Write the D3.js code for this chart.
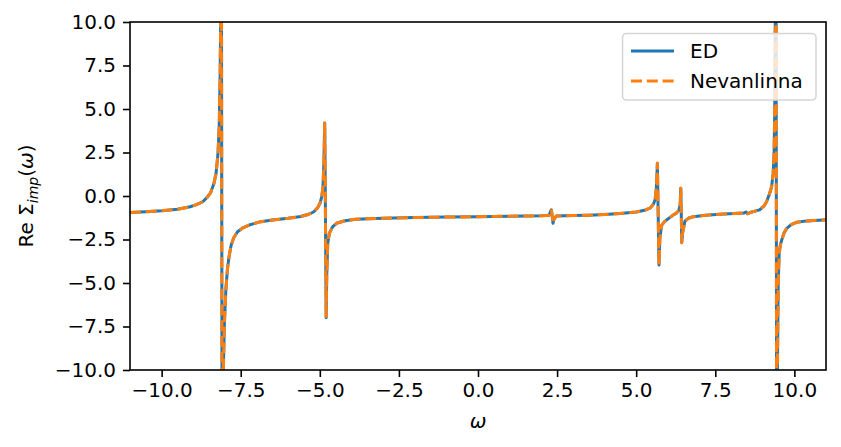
<!DOCTYPE html>
<html>
<head>
<meta charset="utf-8">
<script src="https://cdn.jsdelivr.net/npm/d3@7"></script>
<style>
  html, body { margin: 0; padding: 0; background: #fff; }
  text { font-family: "DejaVu Sans", sans-serif; }
</style>
</head>
<body>
<svg id="chart" width="841" height="447"></svg>
<script>
// ---- data ----
const omega = [
  -11.0, -10.5, -10.0, -9.5, -9.1, -8.9, -8.7, -8.55, -8.45, -8.35, -8.28, -8.22, -8.18, -8.15, -8.13, -8.11,
  -8.09, -8.06, -8.02, -7.97, -7.92, -7.87, -7.80, -7.72, -7.6, -7.45, -7.23, -6.92, -6.5, -6.0, -5.6, -5.35,
  -5.2, -5.08, -5.0, -4.94, -4.90, -4.87, -4.845, -4.83, -4.815, -4.80, -4.78, -4.75, -4.70, -4.60, -4.45, -4.2,
  -3.86, -3.0, -2.0, -1.0, 0.0, 1.0, 2.0, 2.25, 2.30, 2.32, 2.35, 2.37, 2.40, 2.47, 3.0, 3.5, 4.0, 4.5, 5.0,
  5.3, 5.45, 5.55, 5.60, 5.64, 5.67, 5.695, 5.72, 5.75, 5.80, 5.88, 5.96, 6.07, 6.17, 6.28, 6.35, 6.39, 6.41,
  6.425, 6.44, 6.47, 6.54, 6.65, 6.8, 7.2, 7.64, 8.1, 8.4, 8.48, 8.52, 8.6, 8.9, 9.05, 9.12, 9.22, 9.28, 9.33,
  9.36, 9.38, 9.40, 9.42, 9.44, 9.46, 9.49, 9.52, 9.56, 9.60, 9.68, 9.76, 9.9, 10.07, 10.4, 10.9, 11.0
];
const reSigmaED = [
  -0.95, -0.90, -0.85, -0.76, -0.62, -0.50, -0.33, -0.05, 0.2, 0.7, 1.3, 2.4, 4.0, 7.0, 11.0, 14,
  -14, -11, -7.5, -5.4, -4.2, -3.5, -2.8, -2.4, -2.05, -1.85, -1.67, -1.50, -1.38, -1.28, -1.18, -1.05,
  -0.92, -0.7, -0.45, -0.05, 0.5, 2.0, 4.2, 1.0, -3.0, -7.0, -4.5, -2.75, -2.15, -1.78, -1.55, -1.42,
  -1.33, -1.28, -1.24, -1.21, -1.19, -1.16, -1.14, -1.10, -0.85, -0.80, -1.2, -1.57, -1.35, -1.15, -1.12, -1.10, -1.06, -1.0, -0.92,
  -0.80, -0.68, -0.45, -0.2, 0.5, 1.88, -1.0, -3.97, -2.4, -1.7, -1.5, -1.38, -1.23, -1.09, -0.97, -0.82, -0.5, 0.44,
  -1.0, -2.68, -2.1, -1.45, -1.28, -1.19, -1.10, -1.05, -1.00, -0.98, -0.92, -1.02, -0.95, -0.80, -0.55, -0.33, 0.15, 0.53, 1.3,
  2.5, 5, 11, 14, -14, -11, -5, -3.28, -2.8, -2.53, -2.1, -1.86, -1.65, -1.51, -1.43, -1.38, -1.37
];
const reSigmaNevanlinna = reSigmaED.slice();
const xTicks = [-10, -7.5, -5, -2.5, 0, 2.5, 5, 7.5, 10];
const yTicks = [-10, -7.5, -5, -2.5, 0, 2.5, 5, 7.5, 10];
const seriesNames = ["ED", "Nevanlinna"];

// ---- layout ----
const svg = d3.select("#chart");
const L = 130, R = 826, T = 22, B = 370;
const x = d3.scaleLinear().domain([-11, 11]).range([L, R]);
const y = d3.scaleLinear().domain([-10, 10]).range([B, T]);
const fs = 20;
const lw = 3;
const dash = "11,4.8";
const fmt = d => d3.format(".1f")(d).replace("-", "\u2212");

svg.append("defs").append("clipPath").attr("id", "clip")
  .append("rect").attr("x", L).attr("y", T).attr("width", R - L).attr("height", B - T);

const line = d3.line().x((d, i) => x(omega[i])).y(d => y(d));
const g = svg.append("g").attr("clip-path", "url(#clip)");
g.append("path").datum(reSigmaED).attr("d", line)
  .attr("fill", "none").attr("stroke", "#1f77b4").attr("stroke-width", lw)
  .attr("stroke-linejoin", "round");
g.append("path").datum(reSigmaNevanlinna).attr("d", line)
  .attr("fill", "none").attr("stroke", "#ff7f0e").attr("stroke-width", lw)
  .attr("stroke-dasharray", dash).attr("stroke-linejoin", "round");

// axes
const xAxis = d3.axisBottom(x).tickValues(xTicks).tickFormat(fmt).tickSize(7).tickPadding(6);
const yAxis = d3.axisLeft(y).tickValues(yTicks).tickFormat(fmt).tickSize(7).tickPadding(7);
const gx = svg.append("g").attr("transform", `translate(0,${B})`).call(xAxis);
const gy = svg.append("g").attr("transform", `translate(${L},0)`).call(yAxis);
[gx, gy].forEach(a => {
  a.select(".domain").remove();
  a.selectAll("line").attr("stroke", "#000").attr("stroke-width", 1.6);
  a.selectAll("text").attr("font-size", fs).attr("fill", "#000")
    .attr("font-family", "DejaVu Sans, sans-serif");
});
// spines
svg.append("rect").attr("x", L).attr("y", T).attr("width", R - L).attr("height", B - T)
  .attr("fill", "none").attr("stroke", "#000").attr("stroke-width", 1.6);

// axis labels
svg.append("text").attr("x", (L + R) / 2).attr("y", 428).attr("text-anchor", "middle")
  .attr("font-size", fs).attr("font-style", "italic").text("\u03c9");
const yl = svg.append("text").attr("transform", `translate(33,${(T + B) / 2}) rotate(-90)`)
  .attr("text-anchor", "middle").attr("font-size", fs);
yl.append("tspan").text("Re \u03a3");
yl.append("tspan").attr("font-style", "italic").attr("font-size", fs * 0.7).attr("dy", 5).text("imp");
yl.append("tspan").attr("dy", -5).text("(");
yl.append("tspan").attr("font-style", "italic").text("\u03c9");
yl.append("tspan").text(")");

// legend
const lg = svg.append("g");
lg.append("rect").attr("x", 622.5).attr("y", 33.5).attr("width", 193.5).attr("height", 66.5)
  .attr("rx", 4).attr("fill", "#fff").attr("fill-opacity", 0.8)
  .attr("stroke", "#d6d6d6").attr("stroke-width", 1.6);
const legendColors = ["#1f77b4", "#ff7f0e"];
seriesNames.forEach((name, i) => {
  const yy = 51 + i * 30;
  lg.append("line").attr("x1", 631).attr("x2", 674).attr("y1", yy).attr("y2", yy)
    .attr("stroke", legendColors[i]).attr("stroke-width", lw)
    .attr("stroke-dasharray", i === 1 ? dash : null);
  lg.append("text").attr("x", 690).attr("y", yy + 7).attr("font-size", fs).text(name);
});
</script>
</body>
</html>
